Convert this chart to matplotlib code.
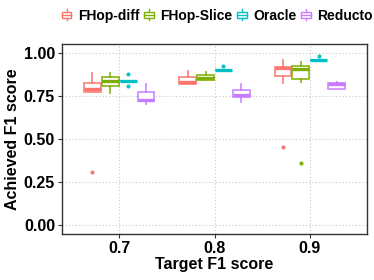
import matplotlib
matplotlib.use("Agg")
import matplotlib.pyplot as plt
from matplotlib.legend_handler import HandlerBase
from matplotlib.patches import Rectangle
from matplotlib.lines import Line2D

plt.rcParams['font.family'] = ['Liberation Sans', 'DejaVu Sans']
plt.rcParams['font.weight'] = 'bold'

# data (box stats per tool, per target F1)
targets = ["0.7", "0.8", "0.9"]
tools = ["FHop-diff", "FHop-Slice", "Oracle", "Reducto"]
colors = ["#F8766D", "#7CAE00", "#00BFC4", "#C77CFF"]

q1 = [[0.772, 0.818, 0.866],
      [0.810, 0.845, 0.847],
      [0.839, 0.900, 0.957],
      [0.719, 0.746, 0.789]]
med = [[0.791, 0.830, 0.910],
       [0.839, 0.855, 0.905],
       [0.839, 0.900, 0.957],
       [0.725, 0.754, 0.818]]
q3 = [[0.826, 0.859, 0.917],
      [0.862, 0.870, 0.923],
      [0.839, 0.900, 0.957],
      [0.771, 0.785, 0.824]]
whislo = [[0.772, 0.818, 0.824],
          [0.767, 0.845, 0.830],
          [0.839, 0.900, 0.957],
          [0.702, 0.717, 0.789]]
whishi = [[0.886, 0.894, 0.959],
          [0.884, 0.890, 0.946],
          [0.839, 0.900, 0.957],
          [0.818, 0.820, 0.830]]
outliers = [[[0.306], [], [0.453]],
            [[], [], [0.362]],
            [[0.876, 0.808], [0.924], [0.980]],
            [[], [], []]]

fig = plt.figure(figsize=(3.74, 2.8), dpi=100)
ax = fig.add_axes([62/374, 46/280, 305/374, 190/280])

dodge = 0.1875
for i, tool in enumerate(tools):
    stats = []
    pos = []
    for j in range(len(targets)):
        stats.append(dict(q1=q1[i][j], med=med[i][j], q3=q3[i][j],
                          whislo=whislo[i][j], whishi=whishi[i][j],
                          fliers=outliers[i][j]))
        pos.append(j + 1 + (i - 1.5) * dodge)
    c = colors[i]
    ax.bxp(stats, positions=pos, widths=0.177, patch_artist=True, showcaps=False,
           boxprops=dict(facecolor="white", edgecolor=c, linewidth=1.3, alpha=0.85),
           medianprops=dict(color=c, linewidth=2.4, solid_capstyle="butt"),
           whiskerprops=dict(color=c, linewidth=1.3, alpha=0.85),
           flierprops=dict(marker="o", markersize=2.0, markerfacecolor=c,
                           markeredgecolor=c, alpha=0.9),
           zorder=3)

ax.set_xlim(0.4, 3.6)
ax.set_ylim(-0.052, 1.052)
ax.set_xticks([1, 2, 3])
ax.set_xticklabels(targets)
ax.set_yticks([0, 0.25, 0.5, 0.75, 1.0])
ax.set_yticklabels(["0.00", "0.25", "0.50", "0.75", "1.00"])
ax.tick_params(labelsize=11.5, colors="black", length=3, width=0.8, pad=2,
               color="#333333")
for lab in ax.get_xticklabels() + ax.get_yticklabels():
    lab.set_fontweight("bold")
ax.grid(True, linestyle=(0, (1, 2)), color="#C8C8C8", linewidth=0.8, zorder=0)
ax.set_axisbelow(True)
for s in ax.spines.values():
    s.set_color("#333333")
    s.set_linewidth(1.0)
ax.set_xlabel("Target F1 score", fontsize=11.5, fontweight="bold", labelpad=1)
ax.set_ylabel("Achieved F1 score", fontsize=11.5, fontweight="bold", labelpad=3)


class BoxKey(HandlerBase):
    def create_artists(self, legend, orig_handle, xdescent, ydescent,
                       width, height, fontsize, trans):
        c = orig_handle.get_color()
        cx = xdescent + width / 2
        bw = width * 0.9
        rect = Rectangle((cx - bw / 2, height * 0.22), bw, height * 0.56,
                         facecolor="white", edgecolor=c, linewidth=1.0,
                         transform=trans)
        mid = Line2D([cx - bw / 2, cx + bw / 2], [height * 0.5, height * 0.5],
                     color=c, linewidth=1.0, transform=trans)
        w1 = Line2D([cx, cx], [0, height * 0.22], color=c, linewidth=1.0,
                    transform=trans)
        w2 = Line2D([cx, cx], [height * 0.78, height], color=c, linewidth=1.0,
                    transform=trans)
        return [rect, mid, w1, w2]


handles = [Line2D([], [], color=c) for c in colors]
fig.legend(handles, tools, loc="center left", bbox_to_anchor=(56/374, 1 - 16/280),
           ncol=4, frameon=False, handlelength=0.75, handleheight=0.8,
           handletextpad=0.45, columnspacing=0.3, borderaxespad=0,
           prop=dict(size=10, weight="bold"),
           handler_map={Line2D: BoxKey()})

fig.savefig("out.png", dpi=100)
